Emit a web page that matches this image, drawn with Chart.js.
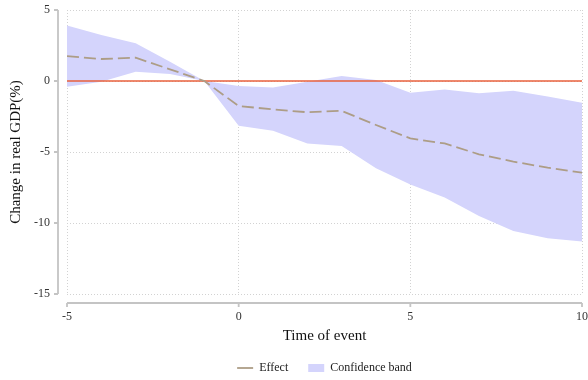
<!DOCTYPE html>
<html>
<head>
<meta charset="utf-8">
<script src="https://cdn.jsdelivr.net/npm/chart.js@4/dist/chart.umd.min.js"></script>
<style>
  html, body { margin: 0; padding: 0; background: #fff; }
  canvas { display: block; }
</style>
</head>
<body>
<canvas id="chart" width="588" height="380"></canvas>
<script>
// data
const periods = [-5, -4, -3, -2, -1, 0, 1, 2, 3, 4, 5, 6, 7, 8, 9, 10];
const effect = [1.75, 1.55, 1.64, 0.82, 0, -1.76, -2.0, -2.2, -2.1, -3.1, -4.04, -4.4, -5.16, -5.68, -6.1, -6.46];
const upperBand = [3.9, 3.24, 2.65, 1.36, 0, -0.35, -0.45, -0.05, 0.35, 0.07, -0.82, -0.59, -0.87, -0.68, -1.1, -1.53];
const lowerBand = [-0.4, -0.05, 0.65, 0.5, 0, -3.15, -3.5, -4.4, -4.58, -6.15, -7.28, -8.2, -9.5, -10.56, -11.08, -11.3];
const zeroLine = periods.map(() => 0);
const xTicks = [-5, 0, 5, 10];
const yTicks = [-15, -10, -5, 0, 5];

const toPoints = arr => arr.map((v, i) => ({ x: periods[i], y: v }));

const serif = 'Liberation Serif';
const axisColor = '#c4c4c4';

// axis lines sit a little away from the plot area, like the Stata look
const offsetAxes = {
    id: 'offsetAxes',
    afterLayout(chart) {
        // centre the legend under the plot area, not the whole canvas
        const area = chart.chartArea;
        chart.legend.left = area.left;
        chart.legend.right = area.right;
    },
    afterDraw(chart) {
        const { ctx, scales: { x, y } } = chart;
        ctx.save();
        ctx.strokeStyle = axisColor;
        ctx.lineWidth = 1.8;
        ctx.setLineDash([]);
        const ax = x.left - 9;
        ctx.beginPath();
        ctx.moveTo(ax, y.getPixelForValue(5));
        ctx.lineTo(ax, y.getPixelForValue(-15));
        yTicks.forEach(t => {
            const py = y.getPixelForValue(t);
            ctx.moveTo(ax, py);
            ctx.lineTo(ax - 4, py);
        });
        const ay = y.bottom + 9;
        ctx.moveTo(x.getPixelForValue(-5), ay);
        ctx.lineTo(x.getPixelForValue(10), ay);
        xTicks.forEach(t => {
            const px = x.getPixelForValue(t);
            ctx.moveTo(px, ay);
            ctx.lineTo(px, ay + 4);
        });
        ctx.stroke();
        ctx.restore();
    }
};

const noScalePadding = s => {
    s.paddingTop = 0;
    s.paddingBottom = 0;
    s.paddingLeft = 0;
    s.paddingRight = 0;
};

new Chart(document.getElementById('chart').getContext('2d'), {
    type: 'line',
    data: {
        datasets: [{
            label: 'Effect',
            data: toPoints(effect),
            borderColor: '#ad9d86',
            borderWidth: 1.8,
            borderDash: [12, 5],
            pointRadius: 0,
            pointStyle: 'line',
            fill: false,
            order: 0
        }, {
            label: 'Confidence band',
            data: toPoints(upperBand),
            borderWidth: 0,
            borderColor: 'rgba(0,0,0,0)',
            backgroundColor: '#d4d4fc',
            pointRadius: 0,
            pointStyle: 'rect',
            fill: { target: 2 },
            order: 3
        }, {
            label: 'lower',
            data: toPoints(lowerBand),
            borderWidth: 0,
            borderColor: 'rgba(0,0,0,0)',
            pointRadius: 0,
            fill: false,
            order: 4
        }, {
            label: 'zero',
            data: toPoints(zeroLine),
            borderColor: '#e8603c',
            borderWidth: 1.6,
            pointRadius: 0,
            fill: false,
            order: 1
        }]
    },
    options: {
        responsive: false,
        animation: false,
        devicePixelRatio: 1,
        layout: { padding: { top: 10, right: 6, left: 0, bottom: 0 } },
        plugins: {
            tooltip: { enabled: false },
            legend: {
                position: 'bottom',
                maxHeight: 38,
                labels: {
                    usePointStyle: true,
                    pointStyleWidth: 16,
                    boxHeight: 8,
                    padding: 20,
                    color: '#222',
                    font: { family: serif, size: 12 },
                    filter: item => item.datasetIndex < 2,
                    generateLabels(chart) {
                        const items = Chart.defaults.plugins.legend.labels.generateLabels(chart);
                        items.forEach(it => { it.lineDash = []; });
                        return items;
                    }
                }
            }
        },
        scales: {
            x: {
                type: 'linear',
                min: -5,
                max: 10,
                afterFit: s => { s.height = 48; noScalePadding(s); },
                afterBuildTicks: s => { s.ticks = xTicks.map(v => ({ value: v })); },
                border: { display: false, dash: [1, 2] },
                grid: { color: '#d2d2d2', drawTicks: false },
                ticks: { padding: 16, color: '#333', font: { family: serif, size: 12 }, maxRotation: 0 },
                title: {
                    display: true,
                    text: 'Time of event',
                    color: '#111',
                    font: { family: serif, size: 15 },
                    padding: { top: 0, bottom: -3 }
                }
            },
            y: {
                min: -15,
                max: 5,
                afterFit: s => { s.width = 67; noScalePadding(s); },
                afterBuildTicks: s => { s.ticks = yTicks.map(v => ({ value: v })); },
                border: { display: false, dash: [1, 2] },
                grid: { color: '#d2d2d2', drawTicks: false },
                ticks: { padding: 17, color: '#333', font: { family: serif, size: 12 } },
                title: {
                    display: true,
                    text: 'Change in real GDP(%)',
                    color: '#111',
                    font: { family: serif, size: 15 },
                    padding: { top: 7, bottom: 0 }
                }
            }
        }
    },
    plugins: [offsetAxes]
});
</script>
</body>
</html>
